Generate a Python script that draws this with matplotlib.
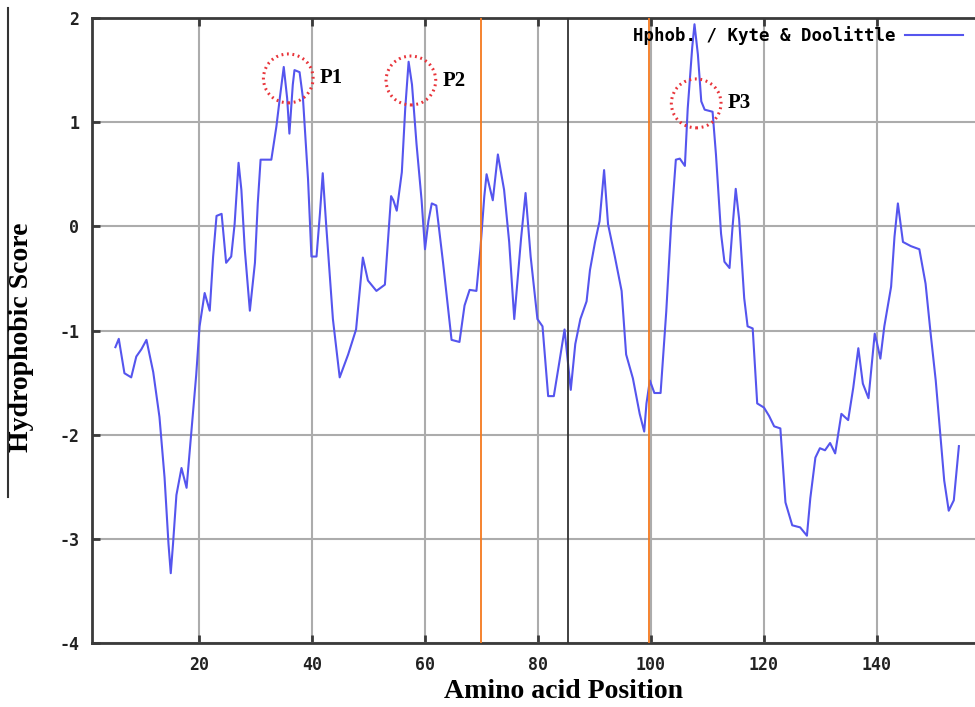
import matplotlib
matplotlib.use("Agg")
import matplotlib.pyplot as plt
from matplotlib.patches import Ellipse
from matplotlib.lines import Line2D

plt.rcParams["axes.unicode_minus"] = False

# Kyte & Doolittle profile, vertices
pos = [5.2, 5.8, 6.8, 8.0, 8.9, 9.8, 10.7, 11.9, 13.0, 13.9, 14.6, 15.0, 15.4, 16.0,
       16.9, 17.8, 18.6, 19.5, 20.1, 21.0, 21.9, 22.5, 23.1, 24.0, 24.8, 25.7, 26.3,
       27.0, 27.5, 28.1, 29.0, 29.9, 30.4, 30.9, 32.8, 33.7, 34.3, 35.0, 35.6, 36.0,
       36.6, 36.9, 37.8, 38.4, 39.3, 39.9, 40.8, 41.4, 41.9, 42.5, 43.7, 44.9, 46.4,
       47.8, 49.0, 49.9, 51.4, 52.9, 54.0, 54.4, 55.0, 55.9, 56.5, 57.1, 57.7, 58.5,
       59.4, 60.0, 60.6, 61.2, 62.0, 63.2, 64.7, 66.1, 67.0, 67.9, 69.1, 69.8, 70.5,
       70.9, 72.0, 72.9, 74.0, 74.9, 75.8, 77.0, 77.8, 78.7, 79.9, 80.8, 81.8, 82.8,
       83.7, 84.7, 85.8, 86.6, 87.5, 88.6, 89.2, 90.1, 90.9, 91.7, 92.4, 93.6, 94.8,
       95.6, 96.8, 98.0, 98.8, 99.2, 99.8, 100.6, 101.7, 102.7, 103.6, 104.4, 105.1,
       106.0, 106.5, 107.3, 107.7, 108.3, 108.9, 109.5, 110.9, 111.5, 112.4, 113.0,
       113.9, 114.4, 115.0, 115.6, 116.5, 117.1, 118.0, 118.8, 120.0, 120.9, 121.8,
       122.9, 123.8, 125.0, 126.4, 127.6, 128.2, 129.1, 129.9, 130.8, 131.7, 132.6,
       133.7, 134.9, 135.8, 136.7, 137.5, 138.5, 139.6, 140.0, 140.6, 141.3, 142.5,
       143.1, 143.7, 144.6, 146.0, 147.5, 148.6, 149.5, 150.4, 151.3, 151.9, 152.7,
       153.6, 154.5]
score = [-1.16, -1.08, -1.41, -1.45, -1.25, -1.18, -1.09, -1.40, -1.83, -2.41, -3.05,
         -3.33, -3.05, -2.58, -2.32, -2.51, -2.00, -1.43, -0.96, -0.64, -0.81, -0.29,
         0.10, 0.12, -0.35, -0.29, 0.02, 0.61, 0.35, -0.22, -0.81, -0.35, 0.22, 0.64,
         0.64, 0.96, 1.23, 1.53, 1.23, 0.89, 1.36, 1.50, 1.48, 1.23, 0.45, -0.29, -0.29,
         0.12, 0.51, 0.02, -0.89, -1.45, -1.23, -0.99, -0.30, -0.52, -0.62, -0.56, 0.29,
         0.25, 0.15, 0.52, 1.13, 1.58, 1.36, 0.79, 0.25, -0.22, 0.05, 0.22, 0.20, -0.35,
         -1.09, -1.11, -0.76, -0.61, -0.62, -0.22, 0.29, 0.50, 0.25, 0.69, 0.35, -0.15,
         -0.89, -0.12, 0.32, -0.29, -0.89, -0.96, -1.63, -1.63, -1.33, -0.99, -1.57,
         -1.13, -0.89, -0.72, -0.42, -0.15, 0.05, 0.54, 0.02, -0.29, -0.62, -1.23, -1.46,
         -1.80, -1.97, -1.70, -1.48, -1.60, -1.60, -0.82, 0.05, 0.64, 0.65, 0.58, 1.13,
         1.72, 1.94, 1.65, 1.20, 1.12, 1.10, 0.69, -0.07, -0.34, -0.40, -0.03, 0.36,
         0.07, -0.69, -0.96, -0.98, -1.70, -1.74, -1.82, -1.92, -1.94, -2.65, -2.87,
         -2.89, -2.97, -2.61, -2.22, -2.13, -2.15, -2.08, -2.18, -1.80, -1.86, -1.55,
         -1.17, -1.51, -1.65, -1.03, -1.12, -1.27, -0.96, -0.58, -0.10, 0.22, -0.15,
         -0.19, -0.22, -0.55, -1.03, -1.48, -2.06, -2.44, -2.73, -2.63, -2.11]

x_ticks = [20, 40, 60, 80, 100, 120, 140]
y_ticks = [-4, -3, -2, -1, 0, 1, 2]

# vertical marker lines
orange_pos = [70, 99.7]
black_pos = [85.3]

# peak annotations (centre x, centre y)
peak_names = ["P1", "P2", "P3"]
peak_x = [35.8, 57.5, 108.0]
peak_y = [1.42, 1.40, 1.18]

mono = "DejaVu Sans Mono"
serif = "Liberation Serif"

fig = plt.figure(figsize=(9.75, 7.07), dpi=100)
ax = fig.add_axes([92 / 975, 1 - 643 / 707, 1 - 92 / 975, (643 - 18) / 707])

ax.plot(pos, score, color="#5555ee", lw=1.5, label="Hphob. / Kyte & Doolittle")

for xv in orange_pos:
    ax.axvline(xv, color="#f57a1f", lw=1.3, zorder=3)
for xv in black_pos:
    ax.axvline(xv, color="#333333", lw=1.3, zorder=3)

for name, cx, cy in zip(peak_names, peak_x, peak_y):
    ax.add_patch(Ellipse((cx, cy), 8.8, 0.47, fill=False, edgecolor="#e8343a",
                         lw=2.2, linestyle=(0, (0.6, 1.2)), zorder=4))
    ax.text(cx + 5.6, cy, name, fontfamily=serif, fontweight="bold", fontsize=15,
            va="center", ha="left")

ax.set_xlim(1.06, 157.35)
ax.set_ylim(-4, 2)
ax.set_xticks(x_ticks)
ax.set_yticks(y_ticks)
ax.grid(True, color="#acacac", lw=1.5)
ax.set_axisbelow(True)

for side in ["left", "top", "bottom"]:
    ax.spines[side].set_color("#3a3a3a")
    ax.spines[side].set_linewidth(2)
ax.spines["right"].set_visible(False)

ax.tick_params(direction="in", length=6, width=2, color="#3a3a3a", top=True, pad=9)
for lab in ax.get_xticklabels() + ax.get_yticklabels():
    lab.set_fontfamily(mono)
    lab.set_fontweight("bold")
    lab.set_fontsize(12)
    lab.set_color("#222222")

leg = ax.legend(loc="upper right", frameon=False, markerfirst=False,
                prop={"family": mono, "weight": "bold", "size": 12.5},
                handlelength=3.3, handletextpad=0.6,
                bbox_to_anchor=(0.995, 1.0), borderaxespad=0.05)

fig.text(564 / 975, 1 - 692 / 707, "Amino acid Position", fontfamily=serif,
         fontweight="bold", fontsize=20, ha="center", va="center")
fig.text(22 / 975, 1 - 337 / 707, "Hydrophobic Score", fontfamily=serif,
         fontweight="bold", fontsize=20, ha="center", va="center", rotation=90)
fig.add_artist(Line2D([8 / 975, 8 / 975], [1 - 8 / 707, 1 - 497 / 707],
                      color="#333333", lw=1.5, transform=fig.transFigure))

fig.savefig("out.png", dpi=100)
